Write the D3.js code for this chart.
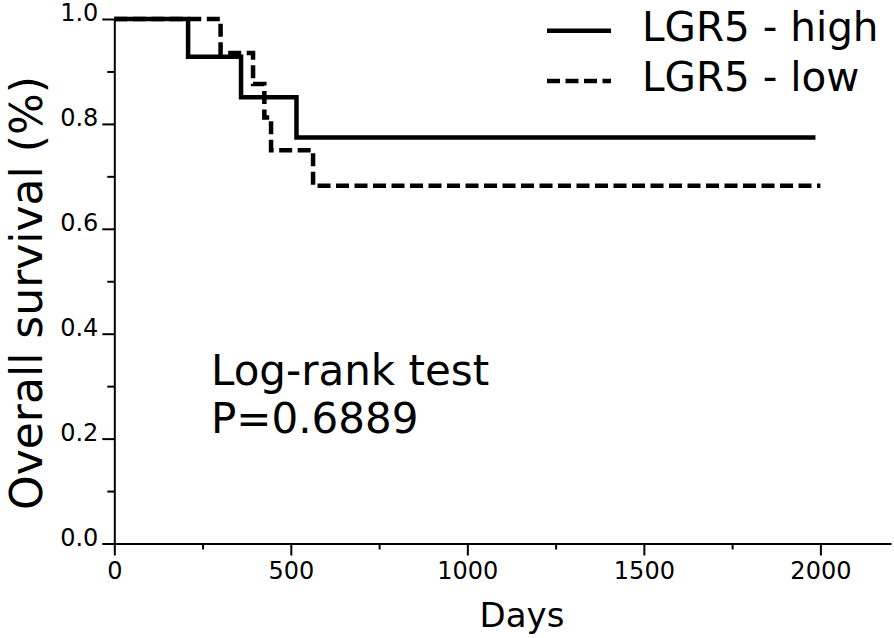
<!DOCTYPE html>
<html>
<head>
<meta charset="utf-8">
<script src="https://cdn.jsdelivr.net/npm/d3@7"></script>
<style>
  body { margin: 0; background: #fff; }
  svg { display: block; font-family: "DejaVu Sans", Verdana, sans-serif; }
</style>
</head>
<body>
<svg></svg>
<script>
// survival curves (days, fraction surviving)
var highDays = [0, 209, 359, 516, 1986];
var highSurv = [1, 0.928, 0.851, 0.774, 0.774];
var lowDays = [0, 301, 393, 425, 444, 563, 2000];
var lowSurv = [1, 0.935, 0.876, 0.812, 0.750, 0.682, 0.682];

var xTicks = [0, 500, 1000, 1500, 2000];
var xMinor = [250, 750, 1250, 1750];
var yTicks = [0, 0.2, 0.4, 0.6, 0.8, 1.0];
var yMinor = [0.1, 0.3, 0.5, 0.7, 0.9];

var seriesNames = ["LGR5 - high", "LGR5 - low"];
var testLines = ["Log-rank test", "P=0.6889"];

var width = 894,
    height = 638;

var svg = d3.select("svg")
    .attr("width", width)
    .attr("height", height);

var xScale = d3.scaleLinear()
    .domain([0, 2200])
    .range([114.3, 891]);

var yScale = d3.scaleLinear()
    .domain([0, 1])
    .range([543.5, 19]);

// minor ticks first, then main axes on top
svg.append("g")
    .attr("transform", "translate(0," + yScale(0) + ")")
    .call(d3.axisBottom(xScale).tickValues(xMinor).tickSize(6).tickFormat(""))
    .call(function(g) { g.select(".domain").remove(); });

svg.append("g")
    .attr("transform", "translate(" + xScale(0) + ",0)")
    .call(d3.axisLeft(yScale).tickValues(yMinor).tickSize(7).tickFormat(""))
    .call(function(g) { g.select(".domain").remove(); });

var xAxis = svg.append("g")
    .attr("transform", "translate(0," + yScale(0) + ")")
    .call(d3.axisBottom(xScale)
        .tickValues(xTicks)
        .tickSize(12)
        .tickSizeOuter(0)
        .tickPadding(6)
        .tickFormat(d3.format("d")));

var yAxis = svg.append("g")
    .attr("transform", "translate(" + xScale(0) + ",0)")
    .call(d3.axisLeft(yScale)
        .tickValues(yTicks)
        .tickSize(12)
        .tickSizeOuter(0)
        .tickPadding(4)
        .tickFormat(d3.format(".1f")));

yAxis.selectAll("text").attr("dy", "0.08em");

svg.selectAll(".tick line, .domain")
    .attr("stroke", "#000")
    .attr("stroke-width", 2);

svg.selectAll(".tick text")
    .attr("fill", "#000")
    .style("font-size", "24px")
    .style("font-family", "DejaVu Sans");

// axis titles
svg.append("text")
    .attr("x", 522)
    .attr("y", 626.5)
    .attr("text-anchor", "middle")
    .style("font-size", "34px")
    .text("Days");

svg.append("text")
    .attr("transform", "translate(42,293) rotate(-90)")
    .attr("text-anchor", "middle")
    .style("font-size", "44px")
    .text("Overall survival (%)");

// curves
var line = d3.line()
    .x(function(d) { return xScale(d[0]); })
    .y(function(d) { return yScale(d[1]); })
    .curve(d3.curveStepAfter);

svg.append("path")
    .datum(d3.zip(lowDays, lowSurv))
    .attr("d", line)
    .attr("fill", "none")
    .attr("stroke", "#000")
    .attr("stroke-width", 4.5)
    .attr("stroke-dasharray", "13,5.5");

svg.append("path")
    .datum(d3.zip(highDays, highSurv))
    .attr("d", line)
    .attr("fill", "none")
    .attr("stroke", "#000")
    .attr("stroke-width", 4.5);

// legend
var legend = svg.append("g");
var legendY = [30.7, 81];

legend.selectAll("line")
    .data(seriesNames)
    .enter()
    .append("line")
    .attr("x1", 547)
    .attr("x2", 611)
    .attr("y1", function(d, i) { return legendY[i]; })
    .attr("y2", function(d, i) { return legendY[i]; })
    .attr("stroke", "#000")
    .attr("stroke-width", 4.5)
    .attr("stroke-dasharray", function(d, i) { return i == 1 ? "13,5.5" : null; });

legend.selectAll("text")
    .data(seriesNames)
    .enter()
    .append("text")
    .attr("x", 642)
    .attr("y", function(d, i) { return legendY[i] + 10; })
    .style("font-size", "40.5px")
    .text(function(d) { return d; });

// test result
svg.append("g")
    .selectAll("text")
    .data(testLines)
    .enter()
    .append("text")
    .attr("x", 211)
    .attr("y", function(d, i) { return 385 + i * 48; })
    .style("font-size", "42px")
    .text(function(d) { return d; });
</script>
</body>
</html>
